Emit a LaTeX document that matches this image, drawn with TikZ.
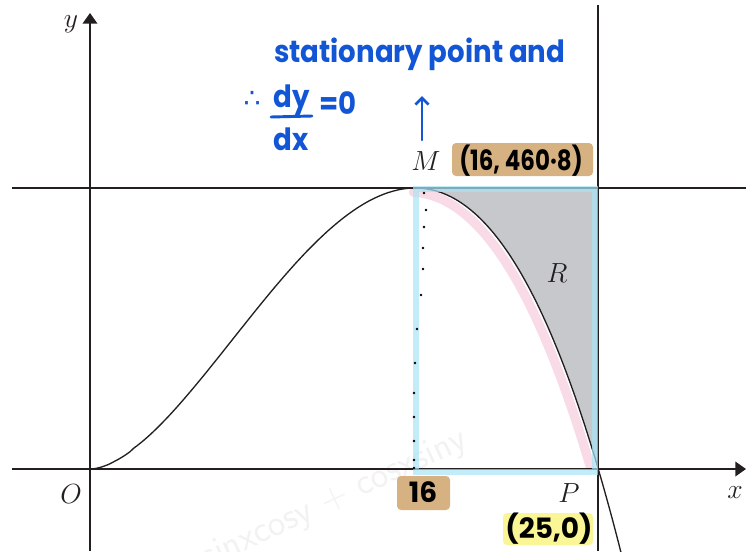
\documentclass[tikz,border=0pt]{standalone}
\usepackage{fontspec}
\usetikzlibrary{arrows.meta}
\newfontfamily\handfont{Poppins}
\newfontfamily\symbfont{DejaVu Sans}
\definecolor{inkblue}{RGB}{18,86,214}
\definecolor{axisblack}{RGB}{35,31,32}
\definecolor{regiongrey}{RGB}{199,200,204}
\definecolor{hltan}{RGB}{214,178,130}
\definecolor{hlyellow}{RGB}{250,246,150}
\definecolor{hlcyan}{RGB}{170,228,246}
\definecolor{hlpink}{RGB}{243,190,210}
\begin{document}
\begin{tikzpicture}[x=0.75pt, y=-0.75pt,
    axis/.style={line width=1.2pt, draw=axisblack},
    lbl/.style={font=\fontsize{22}{26}\selectfont, text=axisblack, inner sep=0pt, anchor=base},
    hand/.style={font=\handfont\bfseries\fontsize{23}{26}\selectfont, text=inkblue, inner sep=0pt},
    coordtxt/.style={font=\handfont\bfseries\fontsize{21}{24}\selectfont, text=black, inner sep=0pt}]
    \useasboundingbox (0,0) rectangle (746,551);
    \node[rotate=25, text=black!5, font=\sffamily\fontsize{28}{30}\selectfont] (wm) at (335,500) {sinxcosy + cosxsiny};
    \coordinate (O) at (90,469);
    \coordinate (M) at (415.3,188);
    \coordinate (P) at (598.25,469);
    \coordinate (Q) at (598.25,188);
    \fill[regiongrey] plot[domain=16:25, samples=60, smooth] ({90+20.33*\x},{469-281*(\x/16)^(16/9)*(25-\x)/9}) -- (Q) -- cycle;
    \draw[hlpink, opacity=0.55, line width=7pt, line cap=round] plot[domain=16.2:24.9, samples=50, smooth] ({84+20.33*\x},{473-281*(\x/16)^(16/9)*(25-\x)/9});
    \coordinate (xl) at (12,469);
    \coordinate (xr) at (746,469);
    \coordinate (yb) at (90,551);
    \coordinate (yt) at (90,13);
    \coordinate (hl) at (12,188);
    \coordinate (hr) at (746,188);
    \coordinate (vb) at (598.25,551);
    \coordinate (vt) at (598.25,5);
    \draw[axis, -{Triangle[width=11pt,length=8pt]}] (xl) -- (xr);
    \draw[axis, -{Triangle[width=11pt,length=8pt]}] (yb) -- (yt);
    \draw[axis] (hl) -- (hr);
    \draw[axis] (vb) -- (vt);
    \draw[line width=1pt, axisblack] plot[domain=0.001:26.15, samples=160, smooth] ({90+20.33*\x},{469-281*(\x/16)^(16/9)*(25-\x)/9});
    \draw[hlcyan, opacity=0.7, line width=5pt] (416,189) rectangle (595,472);
    \foreach \px/\py in {424/193, 426/210, 424/227, 423/248, 423/269, 421/295, 417/329, 415/363, 414/393, 414/417, 414/441, 414/460, 414/468}
        \fill[black] (\px,\py) circle (1.3);
    \node[lbl] (ylbl) at (71,27) {$y$};
    \node[lbl] (xlbl) at (735,498) {$x$};
    \node[lbl] (Olbl) at (71,503) {$O$};
    \node[lbl] (Plbl) at (569,502) {$P$};
    \node[lbl] (Mlbl) at (426,170) {$M$};
    \node[lbl] (Rlbl) at (557,282) {$R$};
    \fill[hltan, rounded corners=3pt] (452,143) rectangle (593,176);
    \fill[hltan, rounded corners=3pt] (397,476) rectangle (450,510);
    \fill[hlyellow, rounded corners=3pt] (503,513) rectangle (593,545);
    \node[coordtxt] (Mcoord) at (521,161) {\scalebox{0.82}[1]{(16, 460·8)}};
    \node[coordtxt] (sixteen) at (423,492) {16};
    \node[coordtxt] (Pcoord) at (549,529) {(25,0)};
    \node[hand, anchor=base west] (note) at (274,62) {\scalebox{0.9}[1]{stationary point and}};
    \node[hand, font=\symbfont\fontsize{20}{22}\selectfont] (therefore) at (252,99) {∴};
    \node[hand] (dy) at (292,100) {\scalebox{0.9}[1]{dy}};
    \node[hand] (dx) at (291,139) {\scalebox{0.9}[1]{dx}};
    \coordinate (barl) at (271,117);
    \coordinate (barr) at (312,116);
    \draw[inkblue, line width=2.2pt, line cap=round] (barl) -- (barr);
    \node[hand] (eqzero) at (338,103) {\scalebox{0.9}[1]{=0}};
    \coordinate (arrlo) at (422,140);
    \coordinate (arrhi) at (422,96);
    \draw[inkblue, line width=2pt, line cap=round, -{Straight Barb[length=5pt,width=10pt]}] (arrlo) -- (arrhi);
\end{tikzpicture}
\end{document}
